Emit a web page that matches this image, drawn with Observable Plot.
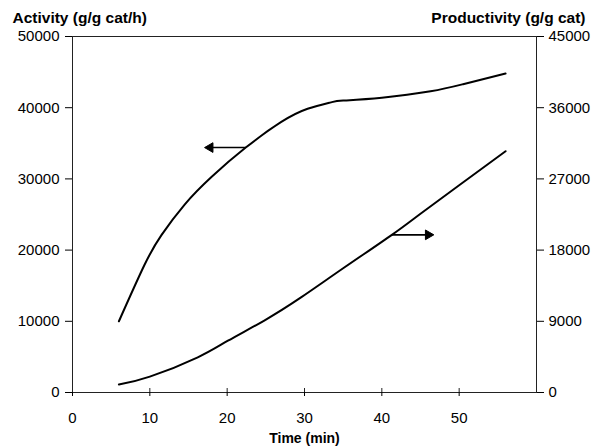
<!DOCTYPE html>
<html>
<head>
<meta charset="utf-8">
<script src="https://cdn.jsdelivr.net/npm/d3@7"></script>
<script src="https://cdn.jsdelivr.net/npm/@observablehq/plot@0.6"></script>
<style>
  html, body { margin: 0; padding: 0; background: #fff; }
  svg { font-family: "Liberation Sans", Arial, sans-serif; }
</style>
</head>
<body>
<div id="chart"></div>
<script>
// Activity (left axis, g/g cat/h)
const activityTime = [6, 9.3, 11.5, 14.5, 18, 22.4, 27, 30.4, 33.4, 35, 40, 46.3, 50.5, 56];
const activity     = [10000, 17900, 22100, 26400, 30300, 34400, 38000, 39850, 40750, 41000, 41400, 42300, 43300, 44800];

// Productivity (right axis, g/g cat)
const productivityTime = [6, 10, 16.2, 20.1, 24.8, 29.6, 35, 41.3, 45, 50, 56];
const productivity     = [1000, 2000, 4450, 6550, 9100, 12050, 15700, 19930, 22600, 26200, 30500];

const xTicks = [0, 10, 20, 30, 40, 50];
const leftTicks = [0, 10000, 20000, 30000, 40000, 50000];
const rightTicks = [0, 9000, 18000, 27000, 36000, 45000];

const leftMax = 50000, rightMax = 45000;
const toLeft = v => v * leftMax / rightMax;

// annotation arrows: from x, to x, value on its own axis
const arrowActivity = {x1: 22.4, x2: 17.8, y: 34400};
const arrowProductivity = {x1: 41.3, x2: 46.0, y: 19930};

const actData = activityTime.map((t, i) => ({t, v: activity[i]}));
const prodData = productivityTime.map((t, i) => ({t, v: toLeft(productivity[i])}));

const arrows = [
  {x1: arrowActivity.x1, x2: arrowActivity.x2, y: arrowActivity.y, rot: -90},
  {x1: arrowProductivity.x1, x2: arrowProductivity.x2, y: toLeft(arrowProductivity.y), rot: 90}
];

const chart = Plot.plot({
  width: 592,
  height: 448,
  marginLeft: 72,
  marginRight: 56,
  marginTop: 36,
  marginBottom: 56,
  style: {fontFamily: "Liberation Sans, Arial, sans-serif", fontSize: "15px", color: "#000", background: "#fff"},
  x: {domain: [0, 60]},
  y: {domain: [0, leftMax]},
  marks: [
    Plot.frame({stroke: "#222", strokeWidth: 1}),
    Plot.axisY({anchor: "left", ticks: leftTicks, tickFormat: d => String(d), tickSize: 7, tickPadding: 6, label: null, fontSize: 15}),
    Plot.axisY({anchor: "right", ticks: rightTicks.map(toLeft), tickFormat: d => String(Math.round(d * rightMax / leftMax)), tickSize: 7, tickPadding: 5, label: null, fontSize: 15}),
    Plot.axisX({ticks: xTicks, tickFormat: d => String(d), tickSize: 4, tickPadding: 16, label: null, fontSize: 15}),
    Plot.ruleX(xTicks, {x: d => d, y1: 0, y2: 0, insetBottom: 4, stroke: "#222"}),
    Plot.line(actData, {x: "t", y: "v", curve: "natural", stroke: "#000", strokeWidth: 2}),
    Plot.line(prodData, {x: "t", y: "v", curve: "natural", stroke: "#000", strokeWidth: 2}),
    Plot.link(arrows, {x1: "x1", x2: "x2", y1: "y", y2: "y", stroke: "#000", strokeWidth: 1.6}),
    Plot.dot(arrows, {x: "x2", y: "y", symbol: "triangle", rotate: "rot", r: 3.6, fill: "#000", stroke: "#000", strokeWidth: 1}),
    Plot.text(["Activity (g/g cat/h)"], {frameAnchor: "top-left", text: d => d, dx: -60, dy: -18, textAnchor: "start", lineAnchor: "middle", fontWeight: "bold", fontSize: 15.5}),
    Plot.text(["Productivity (g/g cat)"], {frameAnchor: "top-right", text: d => d, dx: 49, dy: -18, textAnchor: "end", lineAnchor: "middle", fontWeight: "bold", fontSize: 15.5}),
    Plot.text(["Time (min)"], {frameAnchor: "bottom", text: d => d, dy: 46, lineAnchor: "middle", fontWeight: "bold", fontSize: 14})
  ]
});
document.getElementById("chart").appendChild(chart);
</script>
</body>
</html>
